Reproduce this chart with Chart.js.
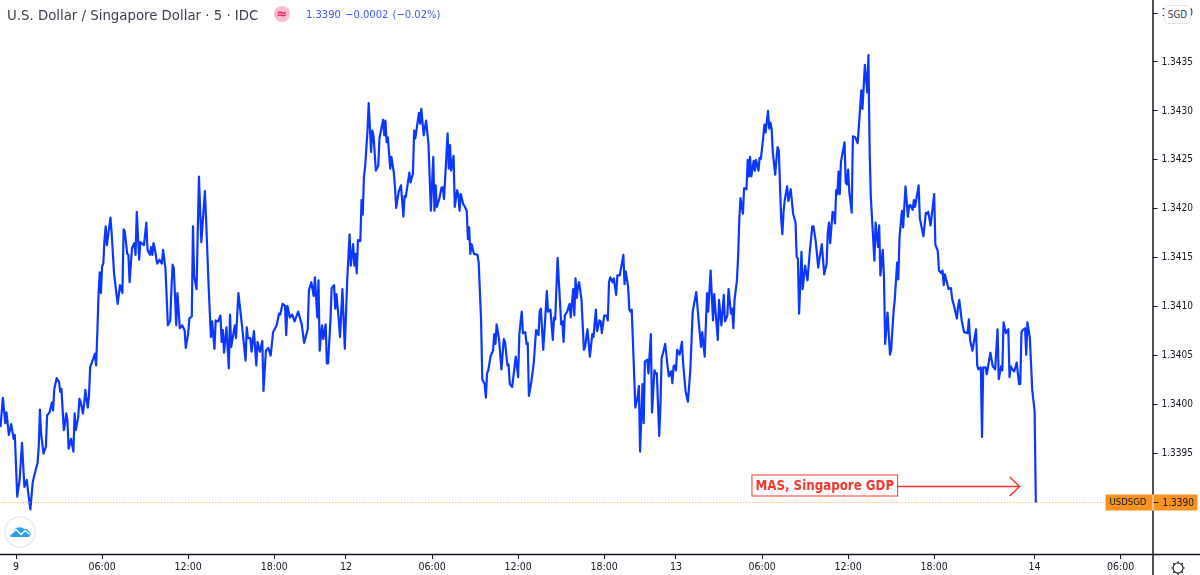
<!DOCTYPE html>
<html>
<head>
<meta charset="utf-8">
<script src="https://cdn.jsdelivr.net/npm/chart.js@4/dist/chart.umd.min.js"></script>
<style>
    html, body { margin: 0; padding: 0; background: #fff; overflow: hidden; }
    #wrap { position: relative; width: 1200px; height: 575px; }
    #title { position: absolute; left: 7px; top: 6px; font: 14.8px 'DejaVu Sans Condensed', 'DejaVu Sans'; color: #3c4150; white-space: nowrap; }
    #badge { position: absolute; left: 274px; top: 6px; width: 16px; height: 16px; border-radius: 50%; background: #f8bbd0; color: #e91e63; font: bold 13px/15px 'DejaVu Sans'; text-align: center; }
    #quote { position: absolute; left: 306px; top: 8px; font: 11.1px 'DejaVu Sans Condensed', 'DejaVu Sans'; color: #3d5afe; white-space: nowrap; word-spacing: 1px; }
    #currency { position: absolute; left: 1164px; top: 5px; width: 25px; height: 17px; border: 1px solid #e0e3eb; border-radius: 5px; background: #fff; color: #3c4150; font: 10px/17px 'DejaVu Sans Condensed', 'DejaVu Sans'; text-align: center; }
    #logo { position: absolute; left: 4px; top: 516px; }
    #gear { position: absolute; left: 1169px; top: 559px; }
</style>
</head>
<body>
<div id="wrap">
    <canvas id="priceChart" width="1200" height="575"></canvas>
    <div id="title">U.S. Dollar / Singapore Dollar · 5 · IDC</div>
    <div id="badge">≈</div>
    <div id="quote">1.3390 −0.0002 (−0.02%)</div>
    <div id="currency">SGD</div>
    <svg id="logo" width="32" height="32" viewBox="0 0 32 32">
        <circle cx="16" cy="16" r="15" fill="#fff" stroke="#e9ecf0" stroke-width="1.5"/>
        <path d="M6.5 21 Q6 17 9 16 Q11 11 15 11.5 Q18 10.5 20 13 Q24 12 25 15.5 Q27.5 17 26.5 19 Q26 21 24 21 Z" fill="#2e9fef"/>
        <path d="M7 18 L12 13.5 L17 18.5 L21 14.5 L26 18.5" fill="none" stroke="#fff" stroke-width="1.3"/>
    </svg>
    <svg id="gear" width="18" height="18" viewBox="0 0 18 18">
        <circle cx="9" cy="9" r="5" fill="none" stroke="#131722" stroke-width="1.1"/>
        <path d="M9 2.2V4M9 14V15.8M2.2 9H4M14 9H15.8M4.2 4.2L5.5 5.5M12.5 12.5L13.8 13.8M4.2 13.8L5.5 12.5M12.5 5.5L13.8 4.2" stroke="#131722" stroke-width="1.1"/>
    </svg>
</div>
<script>
// position of each close in 5 minute bars from the open of the 9th
const barIndex = [
    -13,-11,-9,-8,-6,-4,-2,-1,1,3,
    5,7,9,10,12,14,15,17,18,19,
    20,21,23,25,26,28,30,31,32,34,
    36,37,38,40,41,42,43,44,46,48,
    49,50,52,53,54,56,57,58,60,61,
    62,64,66,67,68,69,70,71,72,73,
    74,75,76,79,80,82,85,87,89,90,
    91,93,94,95,97,99,100,101,103,104,
    107,109,110,112,113,114,115,116,118,120,
    122,123,125,127,129,130,131,132,134,135,
    137,139,141,142,144,145,147,148,149,151,
    153,155,158,159,161,163,164,166,167,169,
    171,172,173,174,176,178,179,180,183,184,
    186,187,189,192,193,194,196,197,199,201,
    202,204,
    206,207,209,211,213,215,218,220,221,223,
    225,226,227,229,231,233,236,239,241,244,
    245,247,249,250,252,253,254,255,256,257,
    259,260,261,263,264,266,267,268,270,271,
    273,275,277,279,280,282,283,284,285,286,
    288,289,290,291,292,294,295,297,298,299,
    301,303,304,307,308,309,310,311,313,314,
    316,317,318,320,322,324,325,326,329,330,
    332,333,334,337,338,339,341,343,345,347,
    349,350,351,352,354,356,357,358,361,362,
    363,364,366,367,369,370,371,372,374,375,
    377,378,379,380,381,383,386,387,389,390,
    392,393,394,395,397,399,400,401,402,404,
    406,408,409,411,412,413,415,418,420,421,
    423,424,426,427,428,429,431,433,435,437,
    438,439,441,443,444,445,447,449,450,451,
    453,454,456,457,458,459,461,463,464,466,
    467,468,469,470,471,473,475,476,478,480,
    482,483,485,486,488,489,490,492,494,495,
    496,497,499,500,502,503,505,508,509,510,
    512,513,514,515,517,518,520,521,522,524,
    525,526,528,529,531,532,534,535,536,538,
    539,540,543,545,546,548,549,550,551,552,
    553,555,557,558,560,562,564,566,569,571,
    573,574,576,578,579,581,583,584,587,588,
    590,592,593,595,596,598,599,600,601,603,
    604,
    605,606,608,609,611,612,613,614,615,617,
    618,619,621,622,623,625,626,627,629,630,
    631,632,633,635,636,637,638,640,641,642,
    643,645,646,648,650,652,653,654,655,657,
    658,660,662,664,666,667,669,671,672,674,
    676,678,679,680,681,683,684,685,686,687,
    688,689,690,693,694,695,696,697,699,700,
    702,704,706,707,708,710,712,713,714,715,
    718,719,721,722,723,725,726,727,729,731,
    732,734,735,737,738,739,741,742,744,746,
    747,748,750,751,752,755,756,759,761,762,
    763,765,768,769,771,772,774,775,776,777,
    780,782,783,785,787,788,789,791,793,796,
    797,798,800,803,804,805,807,808,809,811,
    812,815,817,819,821,822,824,825,826,828,
    830,831,832,834,835,837,839,840,841,842,
    844,845,846,848,850,852,853
];
const closeValues = [
    1.33977,1.34007,1.33981,1.33992,1.33969,1.33980,1.33965,1.33969,1.33906,1.33923,
    1.33961,1.33916,1.33923,1.33912,1.33893,1.33921,1.33926,1.33936,1.33940,1.33957,
    1.33995,1.33970,1.33950,1.33957,1.33989,1.33992,1.34002,1.33994,1.34016,1.34027,
    1.34023,1.34013,1.34016,1.33974,1.33981,1.33991,1.33984,1.33955,1.33965,1.33952,
    1.33991,1.33974,1.33987,1.34006,1.34003,1.33991,1.34001,1.34015,1.33997,1.34008,
    1.34038,1.34045,1.34052,1.34040,1.34073,1.34112,1.34135,1.34114,1.34141,1.34144,
    1.34168,1.34182,1.34163,1.34191,1.34175,1.34134,1.34103,1.34122,1.34114,1.34179,
    1.34177,1.34154,1.34153,1.34125,1.34160,1.34165,1.34153,1.34197,1.34148,1.34166,
    1.34163,1.34186,1.34158,1.34153,1.34161,1.34153,1.34165,1.34160,1.34144,1.34148,
    1.34144,1.34158,1.34139,1.34081,1.34086,1.34119,1.34143,1.34139,1.34081,1.34114,
    1.34078,1.34081,1.34076,1.34058,1.34073,1.34088,1.34090,1.34182,1.34131,1.34118,
    1.34233,1.34166,1.34218,1.34189,1.34124,1.34069,1.34085,1.34057,1.34086,1.34085,
    1.34091,1.34064,1.34076,1.34053,1.34079,1.34037,1.34092,1.34059,1.34081,1.34068,
    1.34114,1.34103,1.34081,1.34045,1.34079,1.34068,1.34068,1.34054,1.34075,1.34040,
    1.34064,1.34054,
    1.34065,1.34014,1.34055,1.34058,1.34050,1.34074,1.34081,1.34093,1.34092,1.34103,
    1.34101,1.34071,1.34101,1.34089,1.34092,1.34085,1.34095,1.34082,1.34063,1.34077,
    1.34117,1.34125,1.34111,1.34130,1.34089,1.34127,1.34055,1.34070,1.34081,1.34067,
    1.34082,1.34042,1.34042,1.34086,1.34119,1.34122,1.34098,1.34113,1.34086,1.34069,
    1.34118,1.34057,1.34127,1.34174,1.34142,1.34164,1.34142,1.34154,1.34134,1.34168,
    1.34167,1.34209,1.34194,1.34232,1.34243,1.34280,1.34308,1.34258,1.34280,1.34275,
    1.34239,1.34244,1.34272,1.34291,1.34275,1.34290,1.34268,1.34273,1.34241,1.34253,
    1.34237,1.34222,1.34201,1.34217,1.34224,1.34192,1.34213,1.34212,1.34237,1.34227,
    1.34236,1.34280,1.34272,1.34298,1.34287,1.34302,1.34275,1.34290,1.34266,1.34198,
    1.34253,1.34198,1.34224,1.34202,1.34210,1.34222,1.34222,1.34210,1.34277,1.34241,
    1.34265,1.34239,1.34254,1.34202,1.34219,1.34214,1.34198,1.34215,1.34205,1.34203,
    1.34198,1.34169,1.34181,1.34154,1.34164,1.34154,1.34153,1.34145,1.34086,1.34026,
    1.34021,1.34007,1.34032,1.34035,1.34050,1.34055,1.34072,1.34062,1.34082,1.34067,
    1.34036,1.34067,1.34064,1.34040,1.34041,1.34021,1.34018,1.34049,1.34028,1.34072,
    1.34095,1.34073,1.34074,1.34062,1.34063,1.34009,1.34023,1.34042,1.34076,1.34071,
    1.34095,1.34098,1.34056,1.34095,1.34116,1.34095,1.34097,1.34066,1.34089,1.34087,
    1.34150,1.34127,1.34082,1.34085,1.34064,1.34091,1.34095,1.34103,1.34089,1.34118,
    1.34091,1.34129,1.34109,1.34120,1.34125,1.34107,1.34056,1.34059,1.34077,1.34049,
    1.34072,1.34069,1.34097,1.34075,1.34086,1.34085,1.34073,1.34091,1.34091,1.34086,
    1.34125,1.34130,1.34125,1.34129,1.34112,1.34132,1.34132,1.34153,1.34123,1.34136,
    1.34120,1.34097,1.34095,1.34097,1.34032,1.33997,1.34008,1.34019,1.33952,1.34021,
    1.33981,1.34044,1.34046,1.34032,1.34072,1.33992,1.34035,1.34032,1.34032,1.33968,
    1.33998,1.34047,1.34062,1.34039,1.34029,1.34034,1.34022,1.34039,1.34040,1.34035,
    1.34056,1.34051,1.34064,1.34042,1.34014,1.34003,1.34035,1.34095,1.34115,1.34085,
    1.34059,1.34074,1.34049,1.34114,1.34095,1.34137,1.34086,1.34113,1.34066,1.34107,
    1.34081,1.34112,1.34085,1.34091,1.34118,1.34093,1.34098,1.34078,1.34107,1.34127,
    1.34151,
    1.34190,1.34211,1.34195,1.34221,1.34220,1.34250,1.34233,1.34253,1.34233,1.34249,
    1.34239,1.34250,1.34239,1.34252,1.34251,1.34273,1.34286,1.34278,1.34300,1.34282,
    1.34288,1.34282,1.34258,1.34235,1.34250,1.34263,1.34260,1.34190,1.34174,1.34197,
    1.34209,1.34223,1.34208,1.34220,1.34195,1.34186,1.34151,1.34149,1.34093,1.34156,
    1.34118,1.34142,1.34127,1.34157,1.34182,1.34182,1.34166,1.34140,1.34149,1.34164,
    1.34133,1.34144,1.34176,1.34186,1.34165,1.34197,1.34196,1.34185,1.34219,1.34215,
    1.34238,1.34215,1.34248,1.34268,1.34227,1.34225,1.34240,1.34217,1.34196,1.34274,
    1.34273,1.34267,1.34302,1.34321,1.34302,1.34347,1.34319,1.34357,1.34260,1.34212,
    1.34147,1.34186,1.34161,1.34183,1.34132,1.34158,1.34130,1.34062,1.34094,1.34051,
    1.34056,1.34095,1.34107,1.34145,1.34128,1.34171,1.34198,1.34181,1.34223,1.34192,
    1.34203,1.34204,1.34199,1.34209,1.34202,1.34224,1.34190,1.34172,1.34196,1.34195,
    1.34197,1.34183,1.34215,1.34163,1.34157,1.34137,1.34134,1.34137,1.34122,1.34133,
    1.34118,1.34119,1.34108,1.34099,1.34088,1.34100,1.34107,1.34086,1.34074,1.34073,
    1.34087,1.34066,1.34055,1.34077,1.34040,1.34036,1.34038,1.33967,1.34038,1.34038,
    1.34031,1.34053,1.34039,1.34036,1.34077,1.34026,1.34039,1.34035,1.34084,1.34073,
    1.34077,1.34028,1.34039,1.34035,1.34034,1.34043,1.34021,1.34021,1.34074,1.34076,
    1.34078,1.34051,1.34084,1.34068,1.34015,1.33993,1.33900
];

const timeTickBars = [0, 72, 144, 216, 276, 348, 420, 492, 552, 624, 696, 768, 852, 924];
const timeTickLabels = ['9', '06:00', '12:00', '18:00', '12', '06:00', '12:00', '18:00', '13', '06:00', '12:00', '18:00', '14', '06:00'];
const priceTicks = [1.3395, 1.34, 1.3405, 1.341, 1.3415, 1.342, 1.3425, 1.343, 1.3435, 1.344];

const lastPrice = 1.339;
const symbol = 'USDSGD';
const noteText = 'MAS, Singapore GDP';
const noteBars = [737, 839.5];
const notePrice = 1.33917;

const ui = "'DejaVu Sans Condensed', 'DejaVu Sans'";
const axisColor = '#131722';

const overlayPlugin = {
    id: 'overlay',
    afterDraw(chart) {
        const { ctx, scales: { x, y } } = chart;
        const right = chart.chartArea.right;
        const bottom = chart.chartArea.bottom;
        ctx.save();

        // axis borders run to the edge of the canvas
        ctx.strokeStyle = axisColor;
        ctx.lineWidth = 1.5;
        ctx.beginPath();
        ctx.moveTo(0, bottom + 0.5);
        ctx.lineTo(chart.width, bottom + 0.5);
        ctx.moveTo(right + 0.5, 0);
        ctx.lineTo(right + 0.5, chart.height);
        ctx.stroke();

        // last price tag
        const py = y.getPixelForValue(lastPrice);
        ctx.fillStyle = '#f7931e';
        ctx.fillRect(right - 47, py - 8, 92, 16);
        ctx.fillStyle = '#fff';
        ctx.fillRect(right, py - 8, 1, 16);
        ctx.fillStyle = axisColor;
        ctx.fillRect(right + 1, py - 0.5, 5, 1);
        ctx.textBaseline = 'middle';
        ctx.font = '9.5px ' + ui;
        ctx.fillText(symbol, right - 43, py + 0.5);
        ctx.font = '10px ' + ui;
        ctx.fillText(lastPrice.toFixed(4), right + 10, py + 0.5);

        // red note with arrow
        const ny = Math.round(y.getPixelForValue(notePrice)) + 0.5;
        const x0 = x.getPixelForValue(noteBars[0]);
        const x1 = x.getPixelForValue(noteBars[1]);
        ctx.strokeStyle = '#f5372c';
        ctx.lineWidth = 1;
        ctx.font = 'bold 13.2px ' + ui;
        const textW = ctx.measureText(noteText).width;
        const boxW = textW + 7;
        ctx.fillStyle = '#fff';
        ctx.fillRect(x0 - boxW, ny - 11, boxW, 21);
        ctx.strokeRect(x0 - boxW + 0.5, ny - 11.5, boxW, 21);
        ctx.fillStyle = '#f5372c';
        ctx.fillText(noteText, x0 - boxW + 4, ny);
        ctx.lineWidth = 1.5;
        ctx.beginPath();
        ctx.moveTo(x0, ny);
        ctx.lineTo(x1, ny);
        ctx.moveTo(x1 - 10, ny - 9.5);
        ctx.lineTo(x1, ny);
        ctx.lineTo(x1 - 10, ny + 9.5);
        ctx.stroke();
        ctx.restore();
    }
};

new Chart(
    document.getElementById('priceChart'),
    {
        type: 'line',
        data: {
            datasets: [
                {
                    label: symbol + ' last',
                    data: [{ x: -14, y: lastPrice }, { x: 951, y: lastPrice }],
                    borderColor: '#ffa726',
                    borderWidth: 1,
                    borderDash: [1, 2],
                    pointRadius: 0
                },
                {
                    label: symbol,
                    data: barIndex.map((b, i) => ({ x: b, y: closeValues[i] })),
                    borderColor: '#0b37ff',
                    borderWidth: 2.2,
                    borderJoinStyle: 'round',
                    pointRadius: 0,
                    tension: 0
                }
            ]
        },
        options: {
            responsive: false,
            animation: false,
            layout: { padding: 0 },
            plugins: { legend: { display: false }, tooltip: { enabled: false } },
            scales: {
                x: {
                    type: 'linear',
                    min: -13.4,
                    max: 950.6,
                    border: { display: false },
                    grid: { drawOnChartArea: false, tickLength: 5, tickColor: axisColor },
                    afterBuildTicks: (scale) => { scale.ticks = timeTickBars.map((value) => ({ value })); },
                    afterFit: (scale) => {
                        scale.height = 21;
                        scale.paddingLeft = 0;
                        scale.paddingRight = 0;
                    },
                    ticks: {
                        autoSkip: false,
                        maxRotation: 0,
                        padding: 2,
                        color: axisColor,
                        font: { family: ui, size: 10.5 },
                        callback: (value, i) => timeTickLabels[i]
                    }
                },
                y: {
                    position: 'right',
                    min: 1.338474,
                    max: 1.344133,
                    border: { display: false },
                    grid: { drawOnChartArea: false, tickLength: 5, tickColor: axisColor },
                    afterBuildTicks: (scale) => { scale.ticks = priceTicks.map((value) => ({ value })); },
                    afterFit: (scale) => {
                        scale.width = 47.5;
                        scale.paddingTop = 0;
                        scale.paddingBottom = 0;
                    },
                    ticks: {
                        padding: 4,
                        color: axisColor,
                        font: { family: ui, size: 10 },
                        callback: (value) => value.toFixed(4)
                    }
                }
            }
        },
        plugins: [overlayPlugin]
    }
);
</script>
</body>
</html>
